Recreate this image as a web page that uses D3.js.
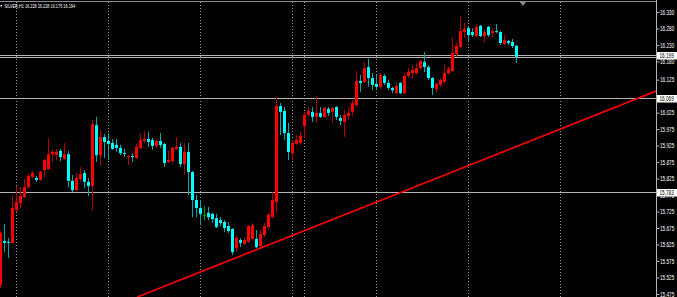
<!DOCTYPE html>
<html><head><meta charset="utf-8">
<script src="https://cdn.jsdelivr.net/npm/d3@7"></script>
<style>html,body{margin:0;padding:0;background:#000;overflow:hidden}</style>
</head><body>
<svg id="c" width="677" height="297"></svg>
<script>
const symbolName = "SILVER,H1";
const openP = [
15.502,15.636,15.633,15.630,15.730,15.751,15.769,15.799,15.830,15.827,
15.821,15.851,15.854,15.899,15.896,15.909,15.884,15.899,15.818,15.790,
15.824,15.842,15.815,15.802,15.987,15.896,15.951,15.939,15.933,15.927,
15.918,15.902,15.890,15.893,15.887,15.918,15.939,15.945,15.942,15.924,
15.939,15.930,15.875,15.878,15.915,15.921,15.869,15.906,15.845,15.760,
15.736,15.715,15.721,15.718,15.705,15.699,15.693,15.681,15.672,15.614,
15.639,15.627,15.633,15.642,15.642,15.620,15.654,15.678,15.708,15.754,
16.045,16.030,15.963,15.902,15.930,15.933,15.984,16.018,16.027,16.012,
16.024,16.012,16.036,16.027,16.042,16.009,15.997,16.015,16.027,16.048,
16.121,16.118,16.163,16.130,16.112,16.103,16.136,16.115,16.100,16.084,
16.115,16.084,16.136,16.145,16.145,16.160,16.178,16.163,16.130,16.097,
16.109,16.118,16.145,16.151,16.203,16.224,16.269,16.281,16.269,16.257,
16.288,16.257,16.285,16.266,16.272,16.269,16.233,16.242,16.239,16.228];
const highP = [
15.666,15.687,15.645,15.775,15.802,15.799,15.824,15.839,15.848,15.833,
15.848,15.884,15.948,15.912,15.915,15.915,15.933,15.909,15.836,15.842,
15.860,15.851,15.827,16.003,16.012,15.972,15.960,15.963,15.945,15.945,
15.927,15.915,15.896,15.902,15.930,15.960,15.969,15.966,15.948,15.945,
15.963,15.933,15.909,15.921,15.951,15.933,15.933,15.933,15.848,15.775,
15.760,15.742,15.739,15.721,15.718,15.708,15.699,15.693,15.675,15.654,
15.645,15.648,15.684,15.690,15.669,15.669,15.690,15.721,15.784,16.072,
16.054,16.042,15.994,15.942,15.957,15.966,16.027,16.042,16.042,16.075,
16.042,16.042,16.042,16.042,16.045,16.018,16.033,16.042,16.063,16.151,
16.139,16.178,16.188,16.145,16.139,16.145,16.142,16.124,16.103,16.115,
16.118,16.145,16.160,16.169,16.175,16.185,16.209,16.169,16.133,16.115,
16.130,16.172,16.163,16.251,16.236,16.318,16.297,16.285,16.281,16.294,
16.291,16.275,16.288,16.281,16.294,16.272,16.260,16.245,16.248,16.228];
const lowP = [
15.493,15.602,15.584,15.627,15.724,15.736,15.766,15.796,15.824,15.815,
15.818,15.830,15.851,15.875,15.881,15.878,15.881,15.799,15.784,15.787,
15.815,15.796,15.772,15.730,15.875,15.863,15.887,15.881,15.912,15.906,
15.896,15.890,15.866,15.875,15.884,15.915,15.933,15.921,15.912,15.918,
15.918,15.860,15.872,15.872,15.912,15.860,15.836,15.775,15.708,15.708,
15.684,15.699,15.699,15.690,15.675,15.681,15.663,15.660,15.593,15.602,
15.617,15.624,15.630,15.636,15.614,15.617,15.648,15.669,15.705,15.721,
15.957,15.942,15.881,15.881,15.927,15.927,15.948,16.012,15.997,15.994,
16.009,16.009,16.015,15.994,16.003,15.987,15.951,16.003,16.015,16.042,
16.087,16.115,16.103,16.093,16.093,16.097,16.109,16.093,16.084,16.081,
16.081,16.081,16.130,16.130,16.139,16.154,16.148,16.124,16.078,16.087,
16.103,16.115,16.139,16.148,16.194,16.221,16.251,16.239,16.254,16.254,
16.254,16.239,16.254,16.254,16.266,16.230,16.230,16.230,16.221,16.175];
const closeP = [
15.660,15.630,15.630,15.736,15.754,15.772,15.799,15.833,15.842,15.821,
15.845,15.881,15.899,15.906,15.906,15.890,15.899,15.818,15.790,15.827,
15.839,15.815,15.802,15.990,15.896,15.951,15.936,15.930,15.915,15.918,
15.902,15.899,15.893,15.890,15.921,15.942,15.945,15.936,15.924,15.939,
15.927,15.872,15.881,15.918,15.921,15.869,15.906,15.845,15.760,15.736,
15.718,15.715,15.708,15.702,15.678,15.690,15.675,15.666,15.602,15.645,
15.630,15.639,15.681,15.684,15.617,15.657,15.681,15.715,15.760,16.045,
16.027,15.963,15.906,15.933,15.942,15.954,16.018,16.030,16.012,16.024,
16.012,16.039,16.024,16.039,16.012,16.000,16.018,16.024,16.054,16.121,
16.115,16.160,16.130,16.109,16.103,16.139,16.115,16.100,16.093,16.106,
16.084,16.136,16.148,16.154,16.160,16.181,16.163,16.130,16.100,16.112,
16.124,16.145,16.157,16.206,16.227,16.272,16.278,16.260,16.260,16.285,
16.257,16.269,16.260,16.272,16.269,16.236,16.245,16.236,16.227,16.194];

const priceTicks = [16.330,16.280,16.230,16.180,16.125,16.025,15.975,15.925,15.875,15.825,15.775,15.725,15.675,15.625,15.575,15.525,15.475];
const levelLines = [16.199, 16.194, 16.069, 15.783];
const levelBoxes = [16.199, 16.069, 15.783];
const gridBars = [4, 27, 50, 73, 76, 94, 117, 140];
const trendBars = [34.2, 163.9];
const trendPrices = [15.466, 16.090];
const shiftBar = 130.6;

const W = 677, H = 297, plotRight = 656;
const FONT = "Liberation Sans, Arial, sans-serif";
const fmt = d3.format(".3f");
const svg = d3.select("#c");
svg.append("rect").attr("width", W).attr("height", H).attr("fill", "#000");

const x = d3.scaleLinear().domain([0, 100]).range([0.5, 400.5]);
const y = d3.scaleLinear().domain([15.475, 16.330]).range([294, 12]);

const plot = svg.append("g");
plot.append("clipPath").attr("id", "clip").append("rect").attr("x", 0).attr("y", 0).attr("width", plotRight).attr("height", H);

// frame top line
plot.append("line").attr("x1", 0).attr("x2", plotRight).attr("y1", 1.5).attr("y2", 1.5).attr("stroke", "#8c8c8c").attr("stroke-width", 1);

// vertical dotted grid
plot.selectAll(".vg").data(gridBars).join("line")
  .attr("x1", d => x(d)).attr("x2", d => x(d)).attr("y1", 2).attr("y2", H)
  .attr("stroke", "#9a9a9a").attr("stroke-width", 1).attr("stroke-dasharray", "1,2");

// horizontal level lines
plot.selectAll(".hl").data(levelLines).join("line")
  .attr("x1", 0).attr("x2", plotRight)
  .attr("y1", d => Math.round(y(d)) + 0.5).attr("y2", d => Math.round(y(d)) + 0.5)
  .attr("stroke", "#b4b4b4").attr("stroke-width", 1);

// candles
const idx = d3.range(openP.length);
const candles = plot.append("g").attr("clip-path", "url(#clip)");
function colors(i) {
  if (closeP[i] > openP[i]) return {body: "#ff0000", wick: "#b40000"};
  if (closeP[i] < openP[i]) return {body: "#00ffff", wick: "#00a8a8"};
  return {body: "#00a000", wick: "#00a000"};
}
candles.selectAll(".wick").data(idx).join("line")
  .attr("x1", i => x(i)).attr("x2", i => x(i))
  .attr("y1", i => y(highP[i])).attr("y2", i => y(lowP[i]))
  .attr("stroke", i => colors(i).wick).attr("stroke-width", 1);
candles.selectAll(".body").data(idx).join("rect")
  .attr("x", i => x(i) - 1.5).attr("width", 3)
  .attr("y", i => y(Math.max(openP[i], closeP[i])))
  .attr("height", i => Math.max(1, Math.abs(y(openP[i]) - y(closeP[i]))))
  .attr("fill", i => colors(i).body);

// trend line
candles.append("line")
  .attr("x1", x(trendBars[0])).attr("y1", y(trendPrices[0]))
  .attr("x2", x(trendBars[1])).attr("y2", y(trendPrices[1]))
  .attr("stroke", "#ff0000").attr("stroke-width", 1.7);

// shift marker
const sx = x(shiftBar);
plot.append("path").attr("d", `M${sx-3},2 L${sx+3},2 L${sx},6 Z`).attr("fill", "#8c8c8c");

// right axis
svg.append("line").attr("x1", plotRight + 0.5).attr("x2", plotRight + 0.5).attr("y1", 0).attr("y2", H)
  .attr("stroke", "#b4b4b4").attr("stroke-width", 1);
const axis = d3.axisRight(y).tickValues(priceTicks).tickFormat(fmt).tickSize(3).tickPadding(1);
const ag = svg.append("g").attr("transform", `translate(${plotRight + 0.5},0)`).call(axis);
ag.select(".domain").remove();
ag.selectAll(".tick line").attr("stroke", "#b4b4b4");
ag.selectAll(".tick text").attr("x", null).attr("dy", null).attr("y", 2.2)
  .attr("transform", "translate(3.5,0) scale(0.72,1)")
  .attr("fill", "#ffffff").attr("font-family", FONT).attr("font-size", 6.5);

// level boxes
const lb = svg.selectAll(".lb").data(levelBoxes).join("g")
  .attr("transform", d => `translate(${plotRight + 1},${Math.round(y(d)) + 0.5})`);
lb.append("rect").attr("x", 0).attr("y", -3.5).attr("width", 20).attr("height", 7.5).attr("fill", "#ffffff");
lb.append("text").attr("transform", "translate(2.5,2.3) scale(0.72,1)").text(d => fmt(d))
  .attr("fill", "#000").attr("font-family", FONT).attr("font-size", 6.5);

// header
const last = openP.length - 1;
svg.append("rect").attr("x", 0.5).attr("y", 5).attr("width", 1.5).attr("height", 1.5).attr("fill", "#fff");
svg.append("text").attr("transform", "translate(4.5,8) scale(0.7,1)")
  .text(`${symbolName}  ${fmt(openP[last])} ${fmt(highP[last])} ${fmt(lowP[last])} ${fmt(closeP[last])}`)
  .attr("fill", "#fff").attr("font-family", FONT).attr("font-size", 5.5);
</script>
</body></html>
